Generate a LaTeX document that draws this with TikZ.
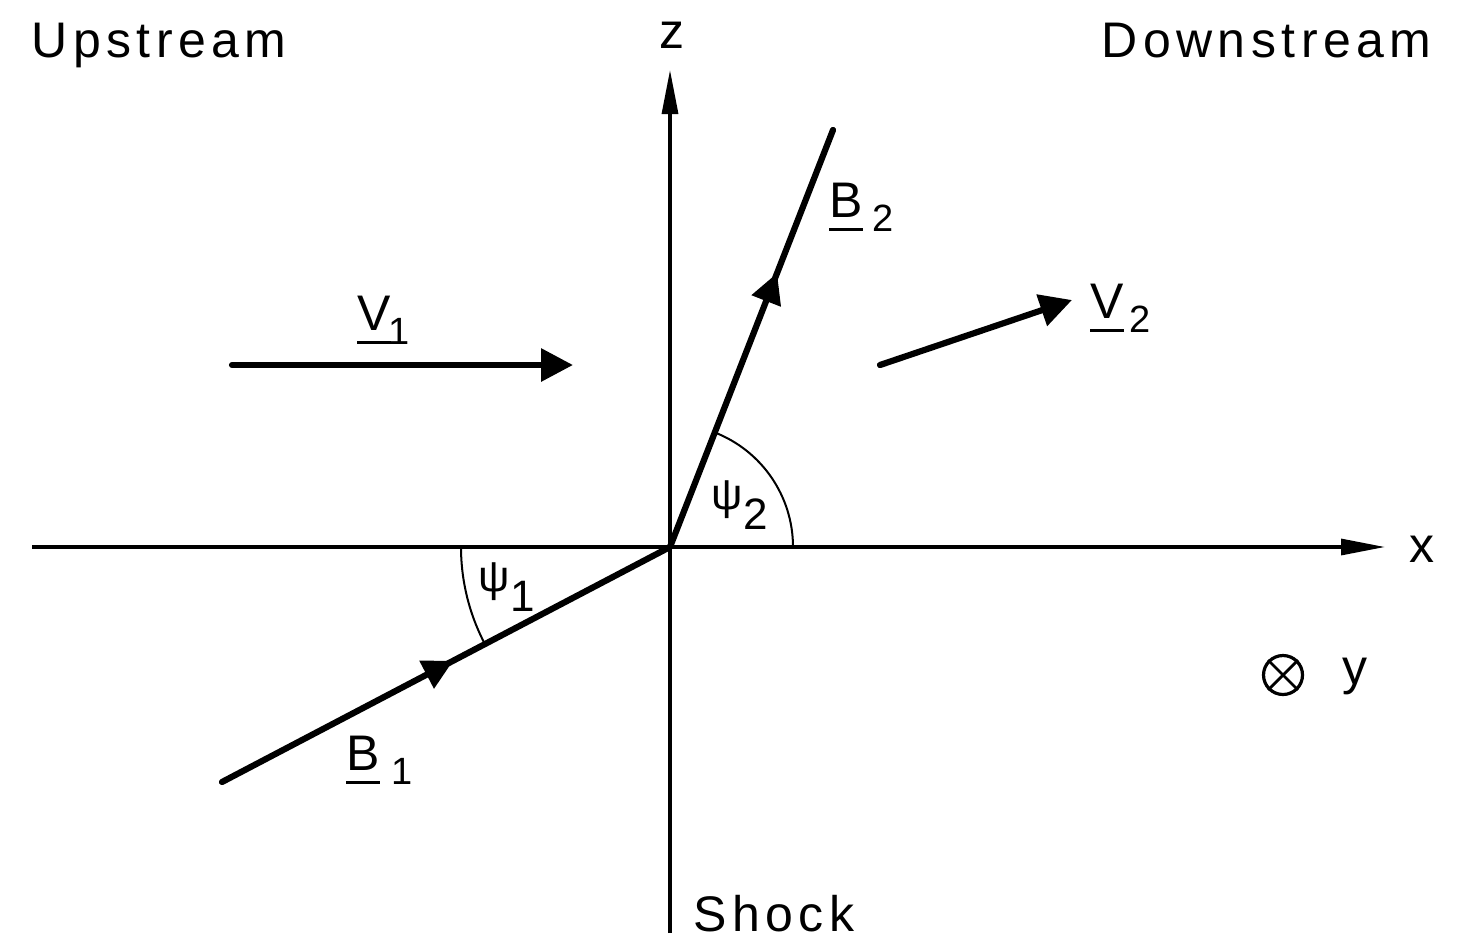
\documentclass[tikz,border=0pt]{standalone}
\usepackage{fontspec}
\setmainfont{Liberation Sans}
\newfontfamily\wordfont[LetterSpace=11]{Liberation Sans}
\newfontfamily\lblfont{Liberation Sans}
\usetikzlibrary{arrows.meta,decorations.markings}
% underlined vector letter with lowered subscript: #1 kern, #2 letter, #3 index
\newcommand{\vlab}[3]{\setbox0\hbox{#2}\rlap{\raisebox{-7pt}{\rule{\wd0}{1.6pt}}}\box0\kern#1\raisebox{-7pt}{\fontsize{19}{19}\selectfont #3}}
\newcommand{\plab}[2]{#1\kern0.5pt\raisebox{-10pt}{#2}}
\begin{document}
\begin{tikzpicture}[x=0.5pt,y=-0.5pt,
  axis/.style={line width=1.6pt,-{Triangle[length=22pt,width=8pt]}},
  vec/.style={line width=3.1pt,line cap=round,-{Triangle[length=16pt,width=16pt]}},
  fieldline/.style={line width=3.1pt,line cap=round},
  anglearc/.style={line width=1pt},
  word/.style={inner sep=0pt,font=\wordfont\fontsize{25}{30}\selectfont},
  lbl/.style={inner sep=0pt,font=\lblfont\fontsize{25}{30}\selectfont},
  psilbl/.style={inner sep=0pt,font=\lblfont\fontsize{22}{24}\selectfont}]
\useasboundingbox (0,0) rectangle (1459,948);
\fill[white] (0,0) rectangle (1459,948);
% coordinates
\coordinate (O) at (670,547);
\coordinate (xL) at (32,547);
\coordinate (xR) at (1385,547);
\coordinate (zB) at (670,933);
\coordinate (zT) at (670,70);
\coordinate (b1s) at (222,782);
\coordinate (b2e) at (833,130);
\coordinate (v1s) at (232,365);
\coordinate (v1e) at (573,365);
\coordinate (v2s) at (880,365);
\coordinate (v2e) at (1072,300);
% axes
\draw[axis] (xL) -- (xR);
\draw[axis] (zB) -- (zT);
% angle arcs
\draw[anglearc] (O) ++(180:209) arc[start angle=180,end angle=152.3,radius=209];
\draw[anglearc] (O) ++(0:123) arc[start angle=0,end angle=-68.65,radius=123];
% field lines
\draw[fieldline,postaction={decorate},decoration={markings,mark=at position 0.516 with {\arrow{Triangle[length=15pt,width=15pt]}}}] (b1s) -- (O);
\draw[fieldline,postaction={decorate},decoration={markings,mark=at position 0.657 with {\arrow{Triangle[length=15pt,width=15pt]}}}] (O) -- (b2e);
% flow vectors
\draw[vec] (v1s) -- (v1e);
\draw[vec] (v2s) -- (v2e);
% words
\node[word,anchor=base west] (up) at (31,57) {Upstream};
\node[word,anchor=base west] (down) at (1101,57) {Downstream};
\node[word,anchor=base west] (zl) at (659,48) {z};
\node[word,anchor=base west] (xlab) at (1409,562) {x};
\node[word,anchor=base west] (ylab) at (1342,684) {y};
\node[word,anchor=base west] (shock) at (693,931) {Shock};
% y into page
\node[circle,draw,line width=1.6pt,minimum size=19.5pt,inner sep=0pt] (yin) at (1283,675) {};
\draw[line width=1.4pt] (yin.north west) -- (yin.south east) (yin.north east) -- (yin.south west);
% vector labels
\node[lbl,anchor=base west] (b2l) at (829,217) {\vlab{5pt}{B}{2}};
\node[lbl,anchor=base west] (b1l) at (346,770) {\vlab{6pt}{B}{1}};
\node[lbl,anchor=base west] (v1l) at (357,330) {\vlab{-1pt}{V}{1}};
\node[lbl,anchor=base west] (v2l) at (1090,318) {\vlab{3pt}{V}{2}};
% angle labels
\node[psilbl,anchor=base west] (p1) at (478,591) {\plab{ψ}{1}};
\node[psilbl,anchor=base west] (p2) at (711,509) {\plab{ψ}{2}};
\end{tikzpicture}
\end{document}
